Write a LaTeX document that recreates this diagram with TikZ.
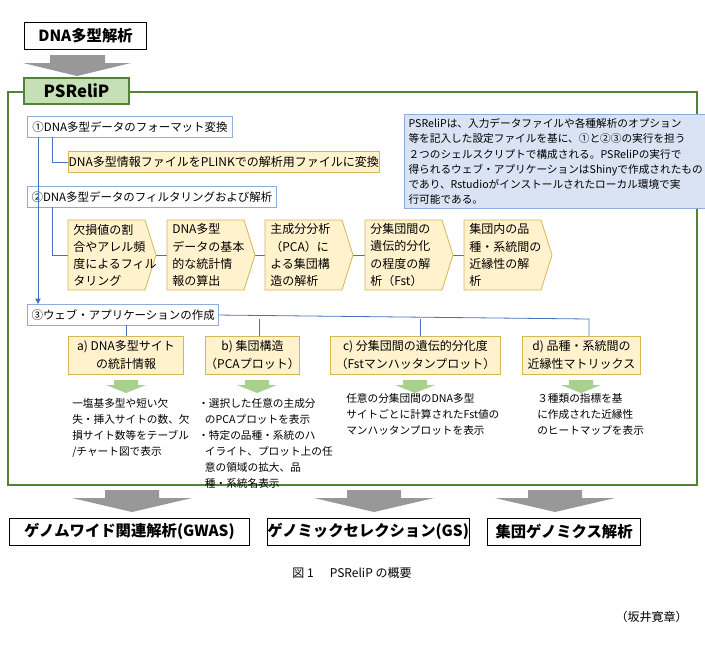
\documentclass[tikz,border=0pt]{standalone}
\usepackage{fontspec}
\setmainfont{Noto Sans CJK JP}
\XeTeXlinebreaklocale "ja"
\XeTeXlinebreakskip=0pt plus 1pt
\usetikzlibrary{arrows.meta}
\definecolor{gfr}{HTML}{548235}
\definecolor{gfl}{HTML}{C5E0B4}
\definecolor{bl}{HTML}{4472C4}
\definecolor{bll}{HTML}{8FAADC}
\definecolor{bfill}{HTML}{DAE3F3}
\definecolor{yf}{HTML}{FFF2CC}
\definecolor{yb}{HTML}{D6B656}
\definecolor{gar}{HTML}{7F7F7F}
\definecolor{ga}{HTML}{A9D18E}
\tikzset{
  stepbox/.style={draw=bll,fill=white,line width=0.8pt,anchor=north west,inner xsep=3pt,inner ysep=0pt,minimum height=15.75pt,font=\fontsize{8.6}{11}\selectfont,align=left},
  ybox/.style={draw=yb,fill=yf,line width=0.6pt,inner sep=0pt,font=\fontsize{9}{11}\selectfont},
  chevtxt/.style={anchor=west,inner sep=0pt,align=left,font=\fontsize{9}{12.8}\selectfont},
  conn/.style={draw=bl,line width=0.6pt},
  bigbox/.style={draw=black,line width=0.6pt,fill=white,font=\bfseries\fontsize{11.5}{13}\selectfont,inner sep=0pt,minimum height=20pt},
  desc/.style={font=\fontsize{8}{12}\selectfont,align=left,anchor=north west,inner sep=0pt}
}
\newcommand{\grayarrow}[3]{%
  \fill[gar!80] (#1-27,#2) -- (#1+27,#2) -- (#1+27,#2+8) -- (#1+60,#2+8) -- (#1,#3) -- (#1-60,#2+8) -- (#1-27,#2+8) -- cycle;}
\newcommand{\greenarrow}[2]{%
  \fill[ga] (#1-12,#2) -- (#1+12,#2) -- (#1+12,#2+5) -- (#1+20,#2+5) -- (#1,#2+13) -- (#1-20,#2+5) -- (#1-12,#2+5) -- cycle;}
\newcommand{\chevron}[3]{% name, left x, text
  \draw[draw=yb,fill=yf,line width=0.6pt] (#2,220) -- (#2+77,220) -- (#2+88,255) -- (#2+77,290) -- (#2,290) -- cycle;
  \coordinate (#1w) at (#2,255);
  \coordinate (#1e) at (#2+88,255);
  \node[chevtxt] (#1) at (#2+5,255) {#3};}
\begin{document}
\begin{tikzpicture}[x=0.75pt,y=-0.75pt]
\useasboundingbox (0,0) rectangle (705,650);
% top
\node[bigbox,minimum width=92pt] (dna) at (85.5,36) {DNA多型解析};
\fill[gar!80] (50,55) -- (105,55) -- (105,63) -- (131,63) -- (77,76) -- (23,63) -- (50,63) -- cycle;
% frame
\draw[gfr,line width=1.3pt] (8,92) rectangle (697,485);
\node[draw=gfr,fill=gfl,line width=1.6pt,minimum width=79pt,minimum height=19.5pt,inner sep=0pt,font=\bfseries\fontsize{12.5}{14}\selectfont] (ps) at (76.5,91) {PSReliP};
% steps
\node[stepbox,minimum width=153.75pt] (s1) at (27,116) {①DNA多型データのフォーマット変換};
\node[ybox,anchor=north west,minimum width=233pt,minimum height=15.75pt] (y1) at (68,151) {DNA多型情報ファイルをPLINKでの解析用ファイルに変換};
\node[stepbox,minimum width=185pt] (s2) at (27,186) {②DNA多型データのフィルタリングおよび解析};
\node[stepbox,minimum width=131pt] (s3) at (27,304) {③ウェブ・アプリケーションの作成};
% connectors
\draw[conn,-{Triangle[length=4pt,width=4pt]}] (38,137) -- (38,304);
\draw[conn] (52,137) |- (y1.west);
\draw[conn] (52,207) -- (52,255) -- (100,255);
\draw[conn] (100,255) -- (500,255);
\chevron{c1}{68}{欠損値の割\\合やアレル頻\\度によるフィル\\タリング}
\chevron{c2}{167}{DNA多型\\データの基本\\的な統計情\\報の算出}
\chevron{c3}{265}{主成分分析\\（PCA）に\\よる集団構\\造の解析}
\chevron{c4}{365}{分集団間の\\遺伝的分化\\の程度の解\\析（Fst）}
\chevron{c5}{464}{集団内の品\\種・系統間の\\近縁性の解\\析}
% note
\node[draw=bll,fill=bfill,line width=0.8pt,anchor=north west,inner sep=3pt,align=left,font=\fontsize{8}{11.4}\selectfont] (note) at (404,114) {PSReliPは、入力データファイルや各種解析のオプション\\等を記入した設定ファイルを基に、①と②③の実行を担う\\ ２つのシェルスクリプトで構成される。PSReliPの実行で\\得られるウェブ・アプリケーションはShinyで作成されたもの\\であり、Rstudioがインストールされたローカル環境で実\\行可能である。};
% output boxes
\tikzset{obox/.style={ybox,anchor=north,minimum height=28.5pt,align=center,font=\fontsize{9}{13.5}\selectfont}}
\node[obox,minimum width=86pt] (oa) at (126,336) {a) DNA多型サイト\\の統計情報};
\node[obox,minimum width=71pt] (ob) at (252.5,336) {b) 集団構造\\（PCAプロット）};
\node[obox,minimum width=128pt] (oc) at (415.5,336) {c) 分集団間の遺伝的分化度\\（Fstマンハッタンプロット）};
\node[obox,minimum width=88pt] (od) at (581.5,336) {d) 品種・系統間の\\近縁性マトリックス};
\draw[conn] (s3.east) -- (589,319) -- (589,336);
\draw[conn] (126,325) -- (oa.north);
\draw[conn] (259,319) -- (259,336);
\draw[conn] (420,319) -- (420,336);
\greenarrow{126}{380}
\greenarrow{257}{380}
\greenarrow{415}{380}
\greenarrow{581}{380}
\node[desc] (da) at (72,398) {一塩基多型や短い欠\\失・挿入サイトの数、欠\\損サイト数等をテーブル\\/チャート図で表示};
\node[desc] (db) at (198,398) {・選択した任意の主成分\\\hspace{5pt}のPCAプロットを表示\\・特定の品種・系統のハ\\\hspace{5pt}イライト、プロット上の任\\\hspace{5pt}意の領域の拡大、品\\\hspace{5pt}種・系統名表示};
\node[desc] (dc) at (346,393) {任意の分集団間のDNA多型\\サイトごとに計算されたFst値の\\マンハッタンプロットを表示};
\node[desc] (dd) at (537,393) {３種類の指標を基\\に作成された近縁性\\のヒートマップを表示};
% bottom
\grayarrow{132}{490}{512}
\grayarrow{374}{490}{512}
\grayarrow{555}{490}{512}
\node[bigbox,anchor=north west,minimum width=180pt] (g1) at (9,518) {ゲノムワイド関連解析(GWAS)};
\node[bigbox,anchor=north west,minimum width=151pt] (g2) at (267,518) {ゲノミックセレクション(GS)};
\node[bigbox,anchor=north west,minimum width=115pt] (g3) at (487,518) {集団ゲノミクス解析};
\node[font=\fontsize{9}{11}\selectfont,inner sep=0pt] (cap) at (352,573) {図 1\hspace{12pt}PSReliP の概要};
\node[font=\fontsize{9}{11}\selectfont,inner sep=0pt,anchor=east] (au) at (688,617) {（坂井寛章）};
\end{tikzpicture}
\end{document}
